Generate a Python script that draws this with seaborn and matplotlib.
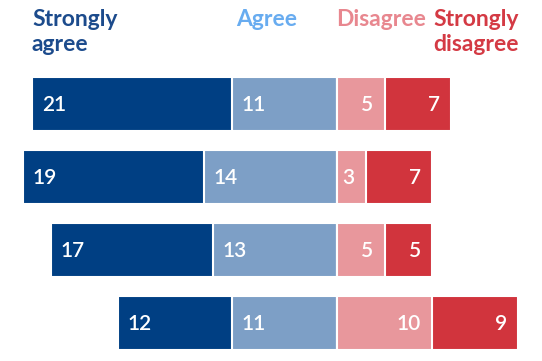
# Diverging stacked bars: agreement survey
import numpy as np
import pandas as pd
import seaborn as sns
import matplotlib.pyplot as plt

sns.set_theme(style="white")
plt.rcParams['font.family'] = ['Lato', 'DejaVu Sans']

# data
rows = ["Q1", "Q2", "Q3", "Q4"]
strongly_agree = [21, 19, 17, 12]
agree = [11, 14, 13, 11]
disagree = [5, 3, 5, 10]
strongly_disagree = [7, 7, 5, 9]

headers = ["Strongly\nagree", "Agree", "Disagree", "Strongly\ndisagree"]
header_x = [32, 236, 336, 433]  # pixel left edges
header_colors = ["#1c4b8c", "#68acf0", "#e8878f", "#d43a44"]
bar_colors = ["#003f83", "#7d9fc6", "#e8979c", "#d1343d"]

df = pd.DataFrame({
    "row": rows,
    "sa": strongly_agree, "a": agree,
    "d": disagree, "sd": strongly_disagree,
})
df["left_outer"] = -(df["sa"] + df["a"])
df["left_inner"] = -df["a"]
df["right_outer"] = df["d"] + df["sd"]
df["right_inner"] = df["d"]

fig = plt.figure(figsize=(5.42, 3.61), dpi=100)
ax = fig.add_axes([0, 0, 1, 1])

bar_kw = dict(y="row", orient="h", width=0.74, edgecolor="white",
              linewidth=1.5, saturation=1, ax=ax, order=rows)
sns.barplot(data=df, x="left_outer", color=bar_colors[0], **bar_kw)
sns.barplot(data=df, x="left_inner", color=bar_colors[1], **bar_kw)
sns.barplot(data=df, x="right_outer", color=bar_colors[3], **bar_kw)
sns.barplot(data=df, x="right_inner", color=bar_colors[2], **bar_kw)

# pixel mapping: center at 337px, 9.53 px per unit
ppu = 9.53
ax.set_xlim(-337 / ppu, (542 - 337) / ppu)
ax.set_ylim((361 - 104) / 73, -104 / 73)
ax.set_axis_off()

num_kw = dict(color="white", fontsize=15, fontweight="semibold", va="center",
              textcoords="offset points")
for i in range(len(rows)):
    ax.annotate(str(strongly_agree[i]), xy=(df["left_outer"][i], i),
                xytext=(7, -1), ha="left", **num_kw)
    ax.annotate(str(agree[i]), xy=(df["left_inner"][i], i),
                xytext=(7, -1), ha="left", **num_kw)
    ax.annotate(str(disagree[i]), xy=(df["right_inner"][i], i),
                xytext=(-8, -1), ha="right", **num_kw)
    ax.annotate(str(strongly_disagree[i]), xy=(df["right_outer"][i], i),
                xytext=(-8, -1), ha="right", **num_kw)

for h, hx, hc in zip(headers, header_x, header_colors):
    fig.text(hx / 542, 1 - 9 / 361, h, color=hc, fontsize=16.5,
             fontweight="bold", ha="left", va="top", linespacing=1.25)

fig.savefig("out.png", dpi=100)
